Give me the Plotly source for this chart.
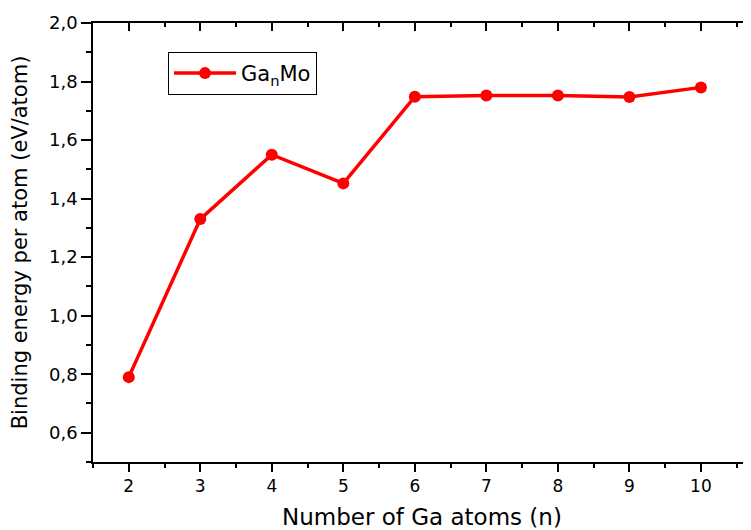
import plotly.graph_objects as go

n_atoms = [2, 3, 4, 5, 6, 7, 8, 9, 10]
binding_energy = [0.790, 1.330, 1.550, 1.452, 1.748, 1.752, 1.752, 1.747, 1.780]
series_name = "Ga<sub>n</sub>Mo"

x_ticks = [2, 3, 4, 5, 6, 7, 8, 9, 10]
x_minor = [1.5, 2.5, 3.5, 4.5, 5.5, 6.5, 7.5, 8.5, 9.5, 10.5]
y_ticks = [0.6, 0.8, 1.0, 1.2, 1.4, 1.6, 1.8, 2.0]
y_tick_text = ["0,6", "0,8", "1,0", "1,2", "1,4", "1,6", "1,8", "2,0"]

FONT = "DejaVu Sans"
X_RANGE = [1.5, 10.7]
Y_RANGE = [0.5, 2.0]

fig = go.Figure()
fig.add_trace(go.Scatter(
    x=n_atoms, y=binding_energy, mode="lines+markers", name=series_name,
    line=dict(color="#ff0000", width=3.5),
    marker=dict(color="#ff0000", size=12),
))
# invisible traces to activate the mirrored axes
fig.add_trace(go.Scatter(x=[None], y=[None], xaxis="x2", yaxis="y", showlegend=False, hoverinfo="skip"))
fig.add_trace(go.Scatter(x=[None], y=[None], xaxis="x", yaxis="y2", showlegend=False, hoverinfo="skip"))

axis_common = dict(showgrid=False, zeroline=False, linecolor="black", linewidth=1.5,
                   tickcolor="black", tickwidth=1.5, automargin=False)

# the page body adds an 8 px offset, so the figure is sized/margined to compensate
fig.update_layout(
    width=743, height=522,
    margin=dict(l=85, r=0, t=15, b=68),
    paper_bgcolor="white", plot_bgcolor="white",
    font=dict(family=FONT, color="black"),
    xaxis=dict(
        range=X_RANGE, tickmode="array", tickvals=x_ticks, ticks="outside", ticklen=8,
        showline=True, tickfont=dict(size=17, family=FONT),
        minor=dict(tickmode="array", tickvals=x_minor, ticks="outside", ticklen=4,
                   tickcolor="black", tickwidth=1.5),
        title=dict(text="Number of Ga atoms (n)", font=dict(size=23, family=FONT), standoff=29),
        **axis_common,
    ),
    xaxis2=dict(
        range=X_RANGE, overlaying="x", side="top", tickmode="array", tickvals=x_ticks,
        ticks="inside", ticklen=8, showticklabels=False, showline=True,
        minor=dict(tickmode="array", tickvals=x_minor, ticks="inside", ticklen=4,
                   tickcolor="black", tickwidth=1.5),
        **axis_common,
    ),
    yaxis=dict(
        range=Y_RANGE, tickmode="array", tickvals=y_ticks, ticktext=y_tick_text,
        ticks="outside", ticklen=10, showline=True, tickfont=dict(size=18, family=FONT),
        minor=dict(dtick=0.1, ticks="outside", ticklen=5, tickcolor="black", tickwidth=1.5),
        title=dict(text="Binding energy per atom (eV/atom)", font=dict(size=21, family=FONT), standoff=16),
        **axis_common,
    ),
    yaxis2=dict(
        range=Y_RANGE, overlaying="y", side="right", tickmode="array", tickvals=y_ticks,
        ticks="inside", ticklen=3, showticklabels=False, showline=False,
        **axis_common,
    ),
    legend=dict(
        x=0.114, y=0.934, xanchor="left", yanchor="top",
        bordercolor="black", borderwidth=1, bgcolor="white",
        font=dict(size=21, family=FONT), itemwidth=62,
    ),
    showlegend=True,
)

fig.write_html("out.html")
